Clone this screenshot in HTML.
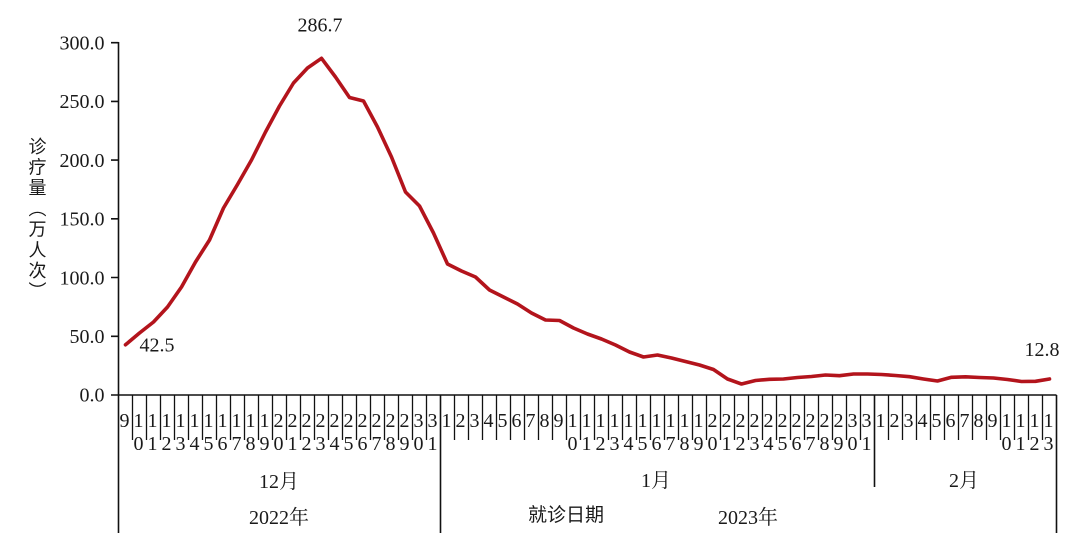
<!DOCTYPE html>
<html><head><meta charset="utf-8"><style>
html,body{margin:0;padding:0;background:#fff;}
body{width:1080px;height:545px;position:relative;overflow:hidden;}
svg{position:absolute;left:0;top:0;}
.yt{position:absolute;left:27.5px;top:136.5px;writing-mode:vertical-rl;font-family:"Liberation Sans","Noto Sans CJK SC",sans-serif;font-size:18px;line-height:18px;letter-spacing:2.7px;color:#1a1a1a;}
</style></head><body>
<svg width="1080" height="545" viewBox="0 0 1080 545" xmlns="http://www.w3.org/2000/svg">
<g stroke="#111" fill="none">
<path d="M118.5 42V533M111 42.7H118.5M111 101.4H118.5M111 160.1H118.5M111 218.8H118.5M111 277.5H118.5M111 336.3H118.5M111 395H118.5" stroke-width="1.6"/>
<path d="M118.5 395H1056.5M1056.5 395V533M440.5 395V533M874.5 395V487" stroke-width="1.6"/>
<path d="M132.5 395V440M146.5 395V440M160.5 395V440M174.5 395V440M188.5 395V440M202.5 395V440M216.5 395V440M230.5 395V440M244.5 395V440M258.5 395V440M272.5 395V440M286.5 395V440M300.5 395V440M314.5 395V440M328.5 395V440M342.5 395V440M356.5 395V440M370.5 395V440M384.5 395V440M398.5 395V440M412.5 395V440M426.5 395V440M454.5 395V440M468.5 395V440M482.5 395V440M496.5 395V440M510.5 395V440M524.5 395V440M538.5 395V440M552.5 395V440M566.5 395V440M580.5 395V440M594.5 395V440M608.5 395V440M622.5 395V440M636.5 395V440M650.5 395V440M664.5 395V440M678.5 395V440M692.5 395V440M706.5 395V440M720.5 395V440M734.5 395V440M748.5 395V440M762.5 395V440M776.5 395V440M790.5 395V440M804.5 395V440M818.5 395V440M832.5 395V440M846.5 395V440M860.5 395V440M888.5 395V440M902.5 395V440M916.5 395V440M930.5 395V440M944.5 395V440M958.5 395V440M972.5 395V440M986.5 395V440M1000.5 395V440M1014.5 395V440M1028.5 395V440M1042.5 395V440" stroke-width="1.3"/>
</g>
<g font-family="'Liberation Serif','Noto Serif CJK SC',serif" font-size="20" fill="#1a1a1a">
<g text-anchor="end">
<text x="104.5" y="49.5">300.0</text>
<text x="104.5" y="108.2">250.0</text>
<text x="104.5" y="166.9">200.0</text>
<text x="104.5" y="225.6">150.0</text>
<text x="104.5" y="284.3">100.0</text>
<text x="104.5" y="343">50.0</text>
<text x="104.5" y="401.7">0.0</text>
</g>
<g text-anchor="middle">
<text x="124.5" y="427">9</text>
<text x="138.5 152.5 166.5 180.5 194.5 208.5 222.5 236.5 250.5 264.5" y="427">1111111111</text>
<text x="278.5 292.5 306.5 320.5 334.5 348.5 362.5 376.5 390.5 404.5" y="427">2222222222</text>
<text x="418.5 432.5" y="427">33</text>
<text x="446.5 460.5 474.5 488.5 502.5 516.5 530.5 544.5 558.5" y="427">123456789</text>
<text x="572.5 586.5 600.5 614.5 628.5 642.5 656.5 670.5 684.5 698.5" y="427">1111111111</text>
<text x="712.5 726.5 740.5 754.5 768.5 782.5 796.5 810.5 824.5 838.5" y="427">2222222222</text>
<text x="852.5 866.5" y="427">33</text>
<text x="880.5 894.5 908.5 922.5 936.5 950.5 964.5 978.5 992.5" y="427">123456789</text>
<text x="1006.5 1020.5 1034.5 1048.5" y="427">1111</text>

<text x="138.5 152.5 166.5 180.5 194.5 208.5 222.5 236.5 250.5 264.5" y="450">0123456789</text>
<text x="278.5 292.5 306.5 320.5 334.5 348.5 362.5 376.5 390.5 404.5" y="450">0123456789</text>
<text x="418.5 432.5" y="450">01</text>
<text x="572.5 586.5 600.5 614.5 628.5 642.5 656.5 670.5 684.5 698.5" y="450">0123456789</text>
<text x="712.5 726.5 740.5 754.5 768.5 782.5 796.5 810.5 824.5 838.5" y="450">0123456789</text>
<text x="852.5 866.5" y="450">01</text>
<text x="1006.5 1020.5 1034.5 1048.5" y="450">0123</text>

<text x="279" y="488">12月</text>
<text x="656" y="487">1月</text>
<text x="964" y="487">2月</text>
<text x="279" y="524">2022年</text>
<text x="748" y="524">2023年</text>
<text x="320" y="31.7">286.7</text>
<text x="157" y="351.7">42.5</text>
<text x="1042" y="356">12.8</text>
</g>
</g>
<text x="566" y="521" text-anchor="middle" font-family="'Liberation Sans','Noto Sans CJK SC',sans-serif" font-size="19" fill="#1a1a1a">就诊日期</text>
<polyline fill="none" stroke="#b3141c" stroke-width="3.6" stroke-linejoin="round" stroke-linecap="round" points="125.5,344.8 139.5,333 153.5,322 167.5,307 181.5,287 195.5,262 209.5,240 223.5,208 237.5,184.5 251.5,160 265.5,132 279.5,106 293.5,83 307.5,68 321.5,58.3 335.5,77 349.5,97.5 363.5,101 377.5,127 391.5,157 405.5,192 419.5,206 433.5,233 447.5,264 461.5,271 475.5,277 489.5,290 503.5,297 517.5,304 531.5,313 545.5,320 559.5,320.5 573.5,328 587.5,334 601.5,339 615.5,345 629.5,352 643.5,357 657.5,355 671.5,358 685.5,361.5 699.5,365 713.5,369.5 727.5,379 741.5,384 755.5,380.5 769.5,379.3 783.5,379 797.5,377.5 811.5,376.5 825.5,375 839.5,375.7 853.5,374 867.5,374 881.5,374.5 895.5,375.5 909.5,376.7 923.5,379 937.5,381 951.5,377.3 965.5,376.8 979.5,377.5 993.5,378 1007.5,379.5 1021.5,381.5 1035.5,381.3 1049.5,379"/>
</svg>
<div class="yt">诊疗量（万人次）</div>
</body></html>
